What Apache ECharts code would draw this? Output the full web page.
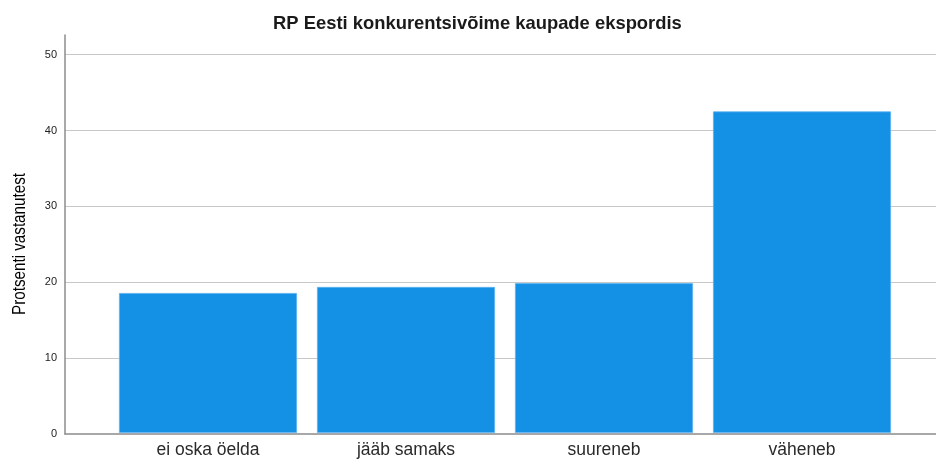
<!DOCTYPE html>
<html>
<head>
<meta charset="utf-8">
<script src="https://cdn.jsdelivr.net/npm/echarts@6/dist/echarts.min.js"></script>
<style>
  html, body { margin: 0; padding: 0; background: #fff; }
  #chart { width: 936px; height: 459px; }
</style>
</head>
<body>
<div id="chart"></div>
<script>
// Survey answers: expected change in competitiveness of Estonian goods exports
const titleText = 'RP Eesti konkurentsivõime kaupade ekspordis';
const yAxisTitle = 'Protsenti vastanutest';
const categories = ['ei oska öelda', 'jääb samaks', 'suureneb', 'väheneb'];
const percentages = [18.5, 19.3, 19.8, 42.5];
const yTicks = [0, 10, 20, 30, 40, 50];

const yMax = 52.6;
const barColor = '#1490e5';
const baseFont = 'Liberation Sans, Arial, sans-serif';

const chart = echarts.init(document.getElementById('chart'), null, { renderer: 'canvas' });

chart.setOption({
  animation: false,
  backgroundColor: '#ffffff',
  title: {
    text: titleText,
    left: 268,
    top: 10,
    textStyle: { fontFamily: baseFont, fontSize: 18.4, fontWeight: 'bold', color: '#1a1a1a' }
  },
  graphic: [{
    // vertical axis title, condensed along its length
    type: 'text',
    x: 20, y: 244,
    rotation: Math.PI / 2,
    scaleX: 0.8,
    style: {
      text: yAxisTitle,
      fill: '#000',
      font: '19px "Liberation Sans", Arial, sans-serif',
      align: 'center',
      verticalAlign: 'middle'
    }
  }],
  grid: [
    // frame grid: value axis, gridlines and the baseline
    { left: 65, right: 0, top: 35, bottom: 25 },
    // bar grid: category bands inset from the frame
    { left: 109, right: 35, top: 35, bottom: 25 }
  ],
  xAxis: [
    {
      gridIndex: 0, type: 'value', min: 0, max: 1,
      axisLine: { show: true, onZero: false, lineStyle: { color: '#8c8c8c', width: 1.5 } },
      axisTick: { show: false }, axisLabel: { show: false }, splitLine: { show: false }
    },
    {
      gridIndex: 1, type: 'category', data: categories,
      axisLine: { show: false }, axisTick: { show: false },
      axisLabel: { color: '#2a2a2a', fontSize: 17.5, margin: 8, fontFamily: baseFont }
    }
  ],
  yAxis: [
    {
      gridIndex: 0, type: 'value', min: 0, max: yMax, interval: 10,
      axisLine: { show: true, lineStyle: { color: '#8c8c8c', width: 1.5 } },
      axisTick: { show: false },
      axisLabel: {
        showMaxLabel: false, color: '#222', fontSize: 11, margin: 8,
        fontFamily: baseFont,
        formatter: v => (yTicks.indexOf(v) >= 0 ? String(v) : '')
      },
      splitLine: { show: true, showMinLine: false, showMaxLine: false, lineStyle: { color: '#c8c8c8', width: 1.2 } }
    },
    {
      gridIndex: 1, type: 'value', min: 0, max: yMax, show: false
    }
  ],
  series: [{
    type: 'bar',
    xAxisIndex: 1, yAxisIndex: 1,
    data: percentages,
    barWidth: 178,
    itemStyle: { color: barColor, borderColor: '#5cb3ef', borderWidth: 0.8 }
  }]
});
</script>
</body>
</html>
